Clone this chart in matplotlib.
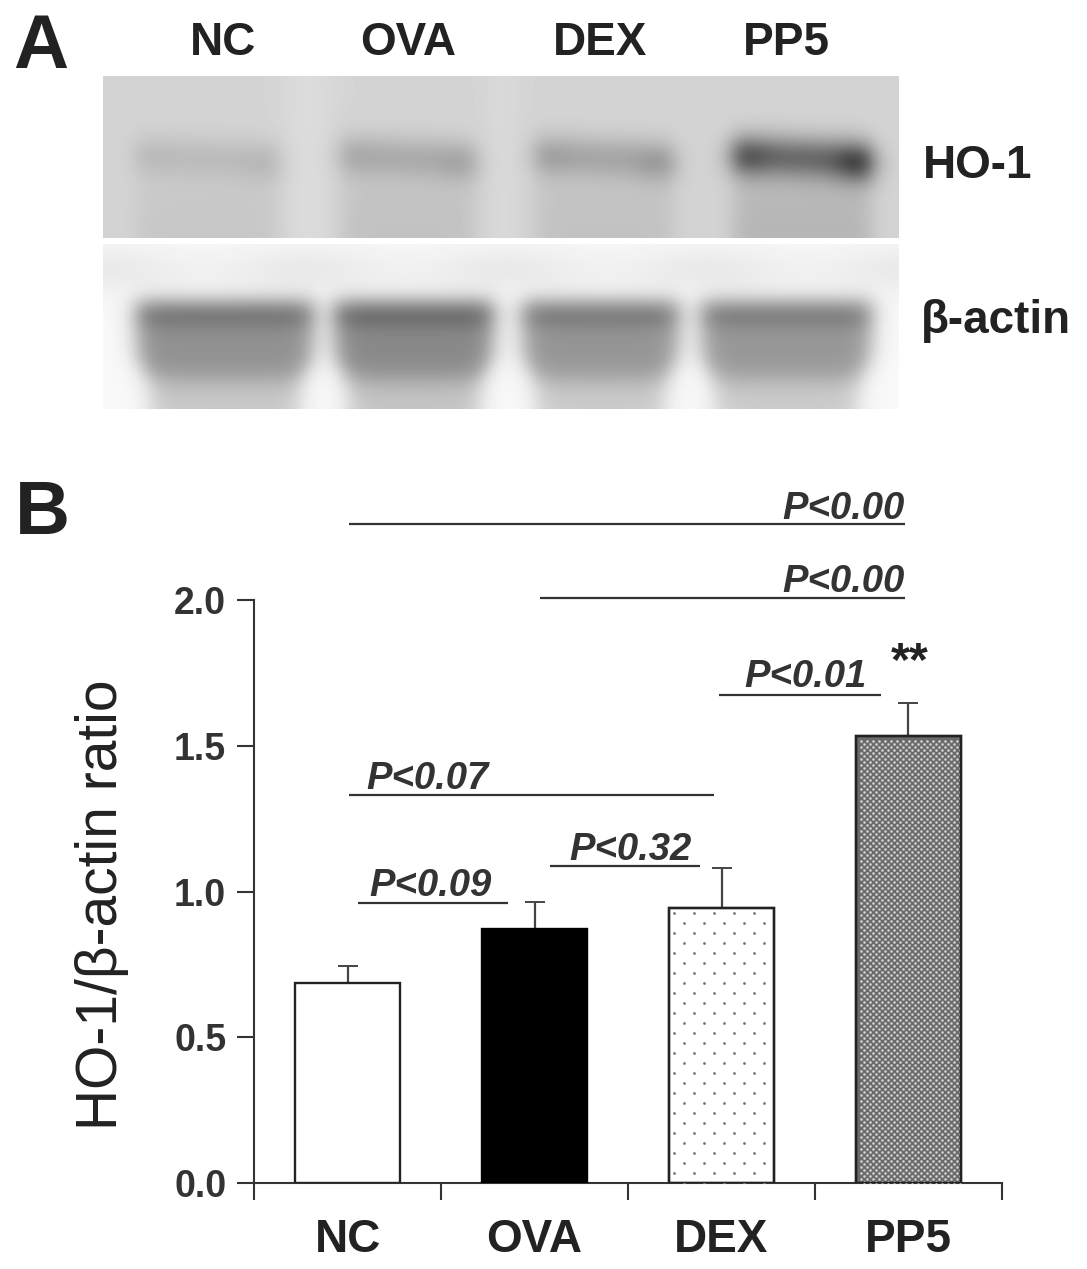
# he_blot_ratio.py
# Western blot panel (A) and HO-1/beta-actin bar chart (B).

import numpy as np
import matplotlib
matplotlib.use("Agg")
import matplotlib.pyplot as plt

plt.rcParams["font.family"] = ["Liberation Sans", "DejaVu Sans"]

groups = ["NC", "OVA", "DEX", "PP5"]
ratio = [0.685, 0.87, 0.945, 1.535]
ratio_err = [0.06, 0.095, 0.135, 0.11]
y_ticks = [0.0, 0.5, 1.0, 1.5, 2.0]

# grey depth of the bands
ho1_depth = [0.08, 0.14, 0.16, 0.38]
ho1_end = [0.02, 0.03, 0.05, 0.17]
ho1_smear = [0.05, 0.07, 0.07, 0.12]
actin_depth = [0.50, 0.54, 0.48, 0.47]

# (x0, x1, y, y text, x text, label) in pixels
brackets = [
    (349, 905, 524, 509, 843, "P<0.00"),
    (540, 905, 598, 582, 843, "P<0.00"),
    (719, 881, 695, 677, 805, "P<0.01"),
    (349, 714, 795, 779, 427, "P<0.07"),
    (550, 700, 866, 850, 630, "P<0.32"),
    (358, 508, 903, 886, 430, "P<0.09"),
]


def lane_profile(xx, x0, x1, soft):
    return 0.25 * (1 + np.tanh((xx - x0) / soft)) * (1 - np.tanh((xx - x1) / soft))


def blur(img, n=13):
    k = np.hanning(n + 2)[1:-1]
    k = k / k.sum()
    pad = np.pad(img, n, mode="edge")
    pad = np.apply_along_axis(lambda r: np.convolve(r, k, mode="same"), 0, pad)
    pad = np.apply_along_axis(lambda r: np.convolve(r, k, mode="same"), 1, pad)
    return pad[n:-n, n:-n]


def ho1_blot():
    h, w = 162, 796
    yy, xx = np.mgrid[0:h, 0:w].astype(float)
    img = 0.83 + 0.03 * np.exp(-((xx - 205) / 28) ** 2) + 0.02 * np.exp(-((xx - 400) / 20) ** 2)
    lanes = [(33, 176), (237, 372), (432, 570), (630, 768)]
    for (x0, x1), d, e, s in zip(lanes, ho1_depth, ho1_end, ho1_smear):
        prof = lane_profile(xx, x0, x1, 12)
        # band sags a little towards the right of each lane
        mid = 78 + 6 * (xx - x0) / (x1 - x0)
        img -= prof * d * np.exp(-((yy - mid) / 21) ** 2)
        img -= prof * s * 0.5 * (1 + np.tanh((yy - 95) / 30))
        img -= e * np.exp(-((xx - x1 + 14) / 22) ** 2 - ((yy - 88) / 19) ** 2)
        img -= e * 0.6 * np.exp(-((xx - x0 - 12) / 22) ** 2 - ((yy - 82) / 19) ** 2)
    return blur(img)


def actin_blot():
    h, w = 165, 796
    yy, xx = np.mgrid[0:h, 0:w].astype(float)
    img = 0.975 - 0.06 * np.exp(-((yy - 25) / 25) ** 2) * (0.75 + 0.25 * np.cos(xx / 32))
    lanes = [(33, 210), (231, 390), (419, 575), (598, 768)]
    for (x0, x1), d in zip(lanes, actin_depth):
        # lanes narrow towards the bottom
        pinch = 14 * 0.5 * (1 + np.tanh((yy - 125) / 18))
        prof = lane_profile(xx, x0 + pinch, x1 - pinch, 13)
        body = 0.5 * (1 + np.tanh((yy - 55) / 11))
        fade = 1 - 0.55 * 0.5 * (1 + np.tanh((yy - 135) / 15))
        img -= prof * body * fade * d * 0.82
        img -= prof * d * 0.2 * np.exp(-((yy - 72) / 13) ** 2)
    return blur(img)


fig = plt.figure(figsize=(10.87, 12.69), dpi=100)
W, H = 1087, 1269

# panel A images
ax_a = fig.add_axes([103 / W, 1 - 238 / H, 796 / W, 162 / H])
ax_a.imshow(ho1_blot(), cmap="gray", vmin=0, vmax=1, aspect="auto")
ax_a.axis("off")
ax_b = fig.add_axes([103 / W, 1 - 409 / H, 796 / W, 165 / H])
ax_b.imshow(actin_blot(), cmap="gray", vmin=0, vmax=1, aspect="auto")
ax_b.axis("off")

# panel B bars
ax = fig.add_axes([254 / W, 1 - 1183 / H, 748 / W, 583 / H])
x = np.arange(len(groups)) + 0.5
bar_w = 0.565
ax.set_xlim(0, 4)
ax.set_ylim(0, 2)
px_x, px_y = 4 / 748, 2 / 583


def stipple(bar, step, color, size):
    # staggered dot texture, one row every step/2 pixels, clipped to the bar
    x0, x1 = bar.get_x(), bar.get_x() + bar.get_width()
    top = bar.get_height()
    rows = np.arange(top - 5 * px_y, 0, -step / 2 * px_y)
    for i, yr in enumerate(rows):
        off = (i % 2) * step / 2 * px_x
        xs = np.arange(x0 + 5 * px_x + off, x1, step * px_x)
        sc = ax.scatter(xs, np.full_like(xs, yr), s=size, color=color, lw=0, zorder=3.5)
        sc.set_clip_path(bar)


ax.errorbar(x, ratio, yerr=[np.zeros(4), ratio_err], fmt="none", ecolor="#444444",
            elinewidth=1.6, capsize=7, capthick=1.4, zorder=2)
ax.bar(x[0], ratio[0], bar_w, facecolor="white", edgecolor="#222222", lw=1.7, zorder=3)
ax.bar(x[1], ratio[1], bar_w, facecolor="black", edgecolor="black", lw=1.7, zorder=3)
dex = ax.bar(x[2], ratio[2], bar_w, facecolor="white", edgecolor="#222222", lw=1.7, zorder=3)[0]
pp5 = ax.bar(x[3], ratio[3], bar_w, facecolor="#6a6a6a", edgecolor="#222222", lw=1.7, zorder=3)[0]
stipple(dex, 20, "#777777", 4)
stipple(pp5, 6, "#d2d2d2", 3.5)
ax.bar(x[2:], ratio[2:], bar_w, fill=False, edgecolor="#222222", lw=1.7, zorder=4)

for side in ["top", "right"]:
    ax.spines[side].set_visible(False)
for side in ["left", "bottom"]:
    ax.spines[side].set_linewidth(1.5)
    ax.spines[side].set_color("#333333")

ax.set_xticks(range(5))
ax.set_xticklabels([])
ax.set_yticks(y_ticks)
ax.set_yticklabels([f"{v:.1f}" for v in y_ticks], fontsize=27, fontweight="bold", color="#333333")
ax.tick_params(axis="y", length=12, width=1.5, pad=8, color="#333333")
ax.tick_params(axis="x", length=12, width=1.5, direction="out", color="#333333")
for xi, g in zip(x, groups):
    ax.text(xi, -0.195, g, ha="center", va="center", fontsize=33, fontweight="bold", color="#222222")
ax.set_ylabel("HO-1/β-actin ratio", fontsize=41, color="#222222")
ax.yaxis.set_label_coords((129 - 254) / 748, (1183 - 905) / 583)

# overlay in pixel coordinates for labels and p-value lines
ov = fig.add_axes([0, 0, 1, 1])
ov.set_xlim(0, W)
ov.set_ylim(H, 0)
ov.axis("off")
ov.patch.set_alpha(0)

ov.text(41, 48, "A", ha="center", va="center", fontsize=55, fontweight="bold", color="#222222")
ov.text(42, 514, "B", ha="center", va="center", fontsize=55, fontweight="bold", color="#222222")
for xt, g in zip([223, 408, 600, 786], groups):
    ov.text(xt, 43, g, ha="center", va="center", fontsize=33, fontweight="bold", color="#222222")
ov.text(923, 166, "HO-1", ha="left", va="center", fontsize=33, fontweight="bold", color="#222222")
ov.text(921, 321, "β-actin", ha="left", va="center", fontsize=33, fontweight="bold", color="#222222")

for x0, x1, yl, yt, xt, lab in brackets:
    ov.plot([x0, x1], [yl, yl], color="#333333", lw=1.6, solid_capstyle="butt")
    ov.text(xt, yt, lab, ha="center", va="center", fontsize=27.5, fontweight="bold",
            style="italic", color="#333333")
ov.text(910, 663, "**", ha="center", va="center", fontsize=35, fontweight="bold", color="#222222")

fig.savefig("out.png", dpi=100)
